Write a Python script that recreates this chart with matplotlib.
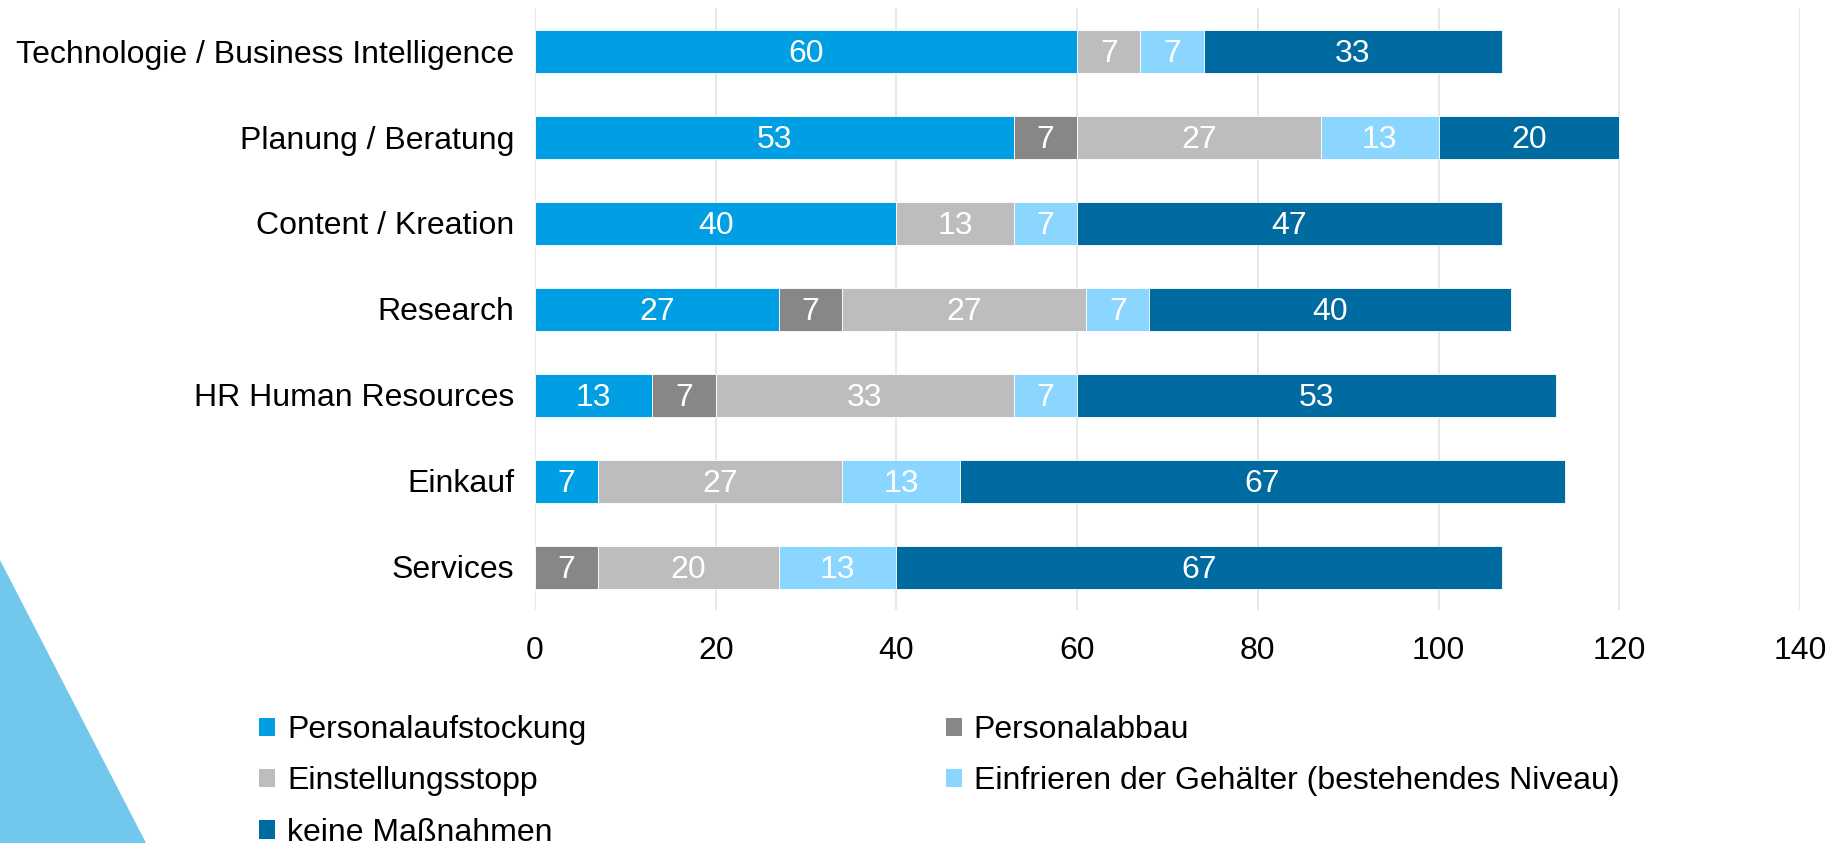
import matplotlib
matplotlib.use("Agg")
import matplotlib.pyplot as plt
from matplotlib.patches import Polygon, Patch
import numpy as np

plt.rcParams['font.family'] = ['Liberation Sans', 'DejaVu Sans']

categories = ["Technologie / Business Intelligence", "Planung / Beratung", "Content / Kreation",
              "Research", "HR Human Resources", "Einkauf", "Services"]
series_names = ["Personalaufstockung", "Personalabbau", "Einstellungsstopp",
                "Einfrieren der Gehälter (bestehendes Niveau)", "keine Maßnahmen"]
personalaufstockung = [60, 53, 40, 27, 13, 7, 0]
personalabbau = [0, 7, 0, 7, 7, 0, 7]
einstellungsstopp = [7, 27, 13, 27, 33, 27, 20]
einfrieren = [7, 13, 7, 7, 7, 13, 13]
keine = [33, 20, 47, 40, 53, 67, 67]
colors = ["#009FE3", "#878787", "#BDBDBD", "#8AD6FE", "#006BA1"]
x_ticks = [0, 20, 40, 60, 80, 100, 120, 140]

series = [personalaufstockung, personalabbau, einstellungsstopp, einfrieren, keine]

W, H = 1831, 843
FS = 23
fig = plt.figure(figsize=(W / 100, H / 100), dpi=100)
fig.patch.set_facecolor("white")

# decorative triangle
tri = Polygon([[0, 1 - 560 / H], [146 / W, 0], [0, 0]], closed=True,
              transform=fig.transFigure, facecolor="#72C7EC", edgecolor="none", zorder=0)
fig.patches.append(tri)

ax = fig.add_axes([535 / W, 1 - 610 / H, (1800 - 535) / W, (610 - 8) / H])
ax.set_facecolor("none")
y = np.arange(len(categories))
left = np.zeros(len(categories))
handles = []
for name, vals, c in zip(series_names, series, colors):
    vals = np.array(vals, dtype=float)
    ax.barh(y, vals, left=left, height=0.5, color=c, edgecolor="white",
            linewidth=0.6, zorder=3, label=name)
    for yi, l, v in zip(y, left, vals):
        if v > 0:
            ax.annotate(f"{int(v)}", (l + v / 2, yi), xytext=(0, -2.5),
                        textcoords="offset points", ha="center", va="center",
                        color="white", fontsize=FS, zorder=4)
    left += vals
    handles.append(Patch(facecolor=c, edgecolor="none", label=name))

ax.set_ylim(len(categories) - 0.5, -0.5)
ax.set_xlim(0, 140)
ax.set_xticks(x_ticks)
ax.set_yticks(y)
ax.set_yticklabels(categories)
ax.tick_params(axis="both", length=0, labelsize=FS, colors="black")
ax.tick_params(axis="y", pad=15)
ax.tick_params(axis="x", pad=19)
ax.xaxis.grid(True, color="#E3E3E3", linewidth=1.2, zorder=0)
ax.set_axisbelow(True)
for s in ax.spines.values():
    s.set_visible(False)

order = [0, 2, 4, 1, 3]
leg = fig.legend([handles[i] for i in order], [series_names[i] for i in order],
                 ncol=2, loc="upper left", bbox_to_anchor=(259 / W, 1 - 715 / H),
                 frameon=False, fontsize=FS, handlelength=0.5, handleheight=0.5,
                 handletextpad=0.38, labelspacing=0.67, columnspacing=11.25, borderpad=0,
                 borderaxespad=0)

fig.savefig("out.png", dpi=100, facecolor="white")
